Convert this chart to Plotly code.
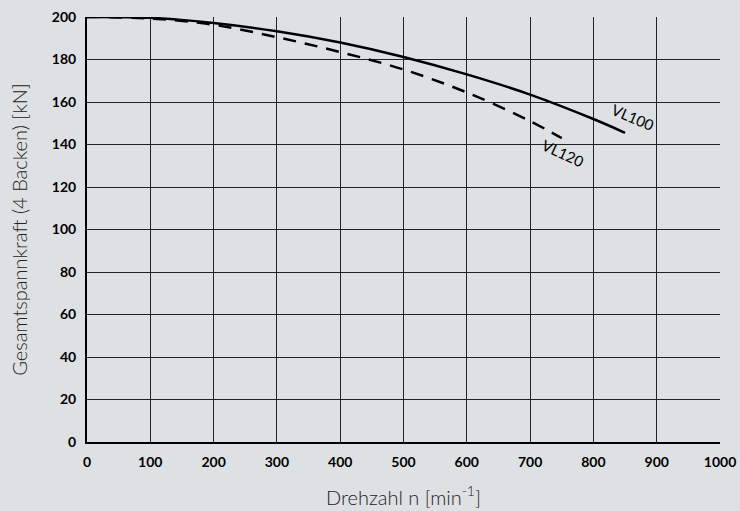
import plotly.graph_objects as go

# Data
vl100_n = [0, 100, 200, 300, 400, 500, 600, 700, 800, 850]
vl100_f = [200, 199.6, 197.2, 193.3, 188, 181.2, 173, 163.5, 152, 145.5]
vl120_n = [0, 100, 200, 300, 400, 500, 600, 700, 750]
vl120_f = [200, 199.3, 196.3, 190.5, 183.5, 175.3, 164.5, 151, 143]

x_ticks = list(range(0, 1001, 100))
y_ticks = list(range(0, 201, 20))

bg = "#dee1e4"
font_family = "Lato, 'Open Sans', sans-serif"

fig = go.Figure()
fig.add_trace(go.Scatter(x=vl100_n, y=vl100_f, mode="lines", line=dict(color="black", width=2.5, shape="spline"),
                         name="VL100", showlegend=False))
fig.add_trace(go.Scatter(x=vl120_n, y=vl120_f, mode="lines",
                         line=dict(color="black", width=2.5, dash="13px,9px", shape="spline"),
                         name="VL120", showlegend=False))

fig.add_annotation(x=862, y=153, text="VL100", showarrow=False, textangle=23,
                   font=dict(family=font_family, size=15, color="black"))
fig.add_annotation(x=752, y=136, text="VL120", showarrow=False, textangle=25,
                   font=dict(family=font_family, size=15, color="black"))

fig.update_layout(
    template="none",
    width=740, height=511,
    margin=dict(l=87, r=20, t=17, b=69, autoexpand=False),
    paper_bgcolor=bg, plot_bgcolor=bg,
    font=dict(family=font_family, color="black"),
    xaxis=dict(range=[0, 1000], tickvals=x_ticks, showgrid=True, gridcolor="#222", gridwidth=1.3,
               showline=True, linecolor="black", linewidth=2, zeroline=False, ticks="", automargin=False,
               tickfont=dict(size=14, weight="bold", color="black"), ticklabelstandoff=6,
               title=dict(text="Drehzahl n [min<sup>-1</sup>]", font=dict(size=20, weight=300, color="#222"), standoff=22)),
    yaxis=dict(range=[0, 200], tickvals=y_ticks, showgrid=True, gridcolor="#222", gridwidth=1.3,
               showline=True, linecolor="black", linewidth=2, zeroline=False, ticks="", automargin=False,
               tickfont=dict(size=14, weight="bold", color="black"), ticklabelstandoff=6,
               title=dict(text="Gesamtspannkraft (4 Backen) [kN]", font=dict(size=20, weight=300, color="#222"), standoff=19)),
)

fig.write_html("out.html", config={"displayModeBar": False},
               post_script="document.body.style.margin='0';document.body.style.background='%s';" % bg)
